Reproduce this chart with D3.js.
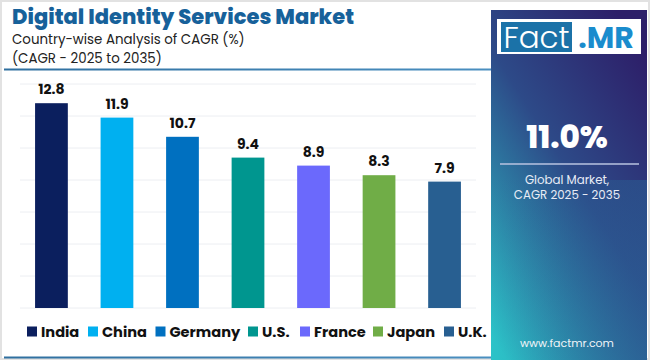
<!DOCTYPE html>
<html><head><meta charset="utf-8">
<script src="https://cdn.jsdelivr.net/npm/d3@7"></script>
<style>body{margin:0;background:#fff}svg{display:block}</style>
</head><body>
<svg id="c" width="650" height="360"></svg>
<script>
const categories = ["India","China","Germany","U.S.","France","Japan","U.K."];
const values = [12.8, 11.9, 10.7, 9.4, 8.9, 8.3, 7.9];
const colors = ["#0b1f5e","#00b0f0","#0070c0","#00968f","#6b69fc","#70ad47","#285f91"];
const yTicks = [0,2,4,6,8,10,12,14];
const title = "Digital Identity Services Market";
const subtitle1 = "Country-wise Analysis of CAGR (%)";
const subtitle2 = "(CAGR - 2025 to 2035)";
const globalValue = "11.0%";
const globalLabel = ["Global Market,", "CAGR 2025 - 2035"];
const website = "www.factmr.com";

const svg = d3.select("#c");
const F = "Poppins, Inter, 'Noto Sans', sans-serif";

// outer frame
svg.append("rect").attr("x",1).attr("y",1).attr("width",648).attr("height",358)
  .attr("fill","#fff").attr("stroke","#e2e2e2").attr("stroke-width",2);

// header
svg.append("text").attr("x",12).attr("y",24).text(title)
  .attr("font-family",F).attr("font-weight",800).attr("font-size",21).attr("fill","#17619a");
svg.append("text").attr("x",12).attr("y",44).text(subtitle1)
  .attr("font-family",F).attr("font-size",13.4).attr("fill","#222");
svg.append("text").attr("x",12).attr("y",63).text(subtitle2)
  .attr("font-family",F).attr("font-size",13.4).attr("fill","#222");

const defs = svg.append("defs");
const lg = defs.append("linearGradient").attr("id","hl").attr("x1","0").attr("x2","1");
lg.append("stop").attr("offset","0").attr("stop-color","#2f6f9f");
lg.append("stop").attr("offset","1").attr("stop-color","#4a8fc0");
svg.append("rect").attr("x",4).attr("y",68.5).attr("width",488).attr("height",2).attr("fill","url(#hl)");
svg.append("rect").attr("x",4).attr("y",356.5).attr("width",488).attr("height",2).attr("fill","url(#hl)");

// chart
const x = d3.scaleBand().domain(categories).range([20,476]).paddingInner(0.5).paddingOuter(0.23);
const y = d3.scaleLinear().domain([0,14]).range([308,84]);

const g = svg.append("g");
g.selectAll("line.grid").data(yTicks).join("line").attr("class","grid")
  .attr("x1",20).attr("x2",476).attr("y1",d=>y(d)).attr("y2",d=>y(d))
  .attr("stroke","#eceef2").attr("stroke-width",1);

g.selectAll("rect.bar").data(values).join("rect").attr("class","bar")
  .attr("x",(d,i)=>x(categories[i])).attr("width",x.bandwidth())
  .attr("y",d=>y(d)).attr("height",d=>y(0)-y(d))
  .attr("fill",(d,i)=>colors[i]);

g.selectAll("text.lbl").data(values).join("text").attr("class","lbl")
  .attr("x",(d,i)=>x(categories[i])+x.bandwidth()/2).attr("y",d=>y(d)-9)
  .attr("text-anchor","middle").attr("font-family",F).attr("font-weight",700)
  .attr("font-size",14).attr("fill","#111").text(d=>d.toFixed(1));

// legend
const legX = [27,88,155.5,248,300,373,444];
const leg = svg.append("g");
categories.forEach((c,i)=>{
  leg.append("rect").attr("x",legX[i]).attr("y",326.5).attr("width",10).attr("height",10).attr("fill",colors[i]);
  leg.append("text").attr("x",legX[i]+14).attr("y",337).text(c)
    .attr("font-family",F).attr("font-weight",700).attr("font-size",14.6).attr("fill","#111");
});

// right panel
const pg = defs.append("linearGradient").attr("id","pg")
  .attr("x1","0.8").attr("y1","0").attr("x2","0.1").attr("y2","1");
pg.append("stop").attr("offset","0").attr("stop-color","#2d1f69");
pg.append("stop").attr("offset","0.45").attr("stop-color","#2d4a88");
pg.append("stop").attr("offset","1").attr("stop-color","#2cc3c8");
svg.append("rect").attr("x",491).attr("y",10).attr("width",156).attr("height",350).attr("fill","url(#pg)");
const pg2 = defs.append("linearGradient").attr("id","pg2").attr("x1","0").attr("x2","1").attr("y1","0").attr("y2","0");
pg2.append("stop").attr("offset","0").attr("stop-color","#2a5f95").attr("stop-opacity",0);
pg2.append("stop").attr("offset","1").attr("stop-color","#2a5f95").attr("stop-opacity",0.55);
svg.append("rect").attr("x",491).attr("y",180).attr("width",156).attr("height",180).attr("fill","url(#pg2)");

// logo
svg.append("rect").attr("x",497).attr("y",19).attr("width",144).attr("height",35).attr("fill","#fff");
svg.append("rect").attr("x",501).attr("y",22).attr("width",71).attr("height",30).attr("fill","#1b72a8");
svg.append("text").attr("x",536.5).attr("y",48).attr("text-anchor","middle").text("Fact")
  .attr("font-family",F).attr("font-weight",300).attr("font-size",31).attr("fill","#fff");
svg.append("text").attr("x",606).attr("y",48).attr("text-anchor","middle").text(".MR")
  .attr("font-family",F).attr("font-weight",700).attr("font-size",30).attr("fill","#1a8ccd");

svg.append("text").attr("x",567).attr("y",148).attr("text-anchor","middle").text(globalValue)
  .attr("font-family",F).attr("font-weight",800).attr("font-size",31).attr("fill","#fff");
svg.append("line").attr("x1",500).attr("x2",639).attr("y1",164).attr("y2",164)
  .attr("stroke","#b9c3e0").attr("stroke-width",1.5);
globalLabel.forEach((t,i)=>{
  svg.append("text").attr("x",567).attr("y",184+i*15).attr("text-anchor","middle").text(t)
    .attr("font-family",F).attr("font-size",11.8).attr("fill","#e8ecf6");
});
svg.append("text").attr("x",567).attr("y",347).attr("text-anchor","middle").text(website)
  .attr("font-family",F).attr("font-size",11).attr("fill","#f0f4f8");
</script>
</body></html>
